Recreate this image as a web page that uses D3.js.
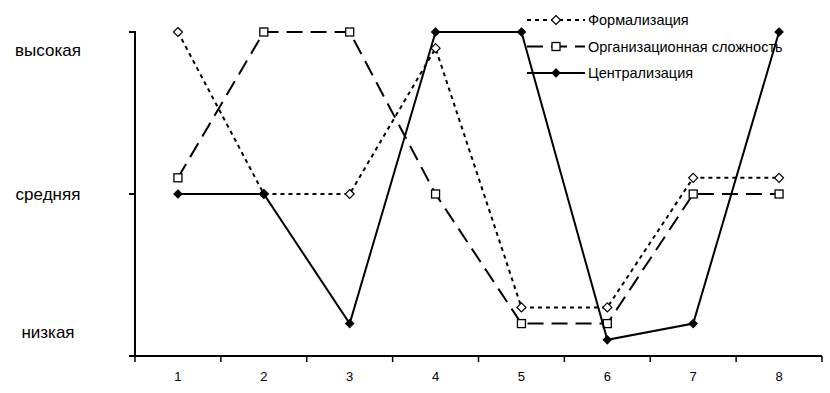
<!DOCTYPE html>
<html>
<head>
<meta charset="utf-8">
<script src="https://cdn.jsdelivr.net/npm/d3@7"></script>
<style>
  body { margin: 0; background: #fff; }
  svg { display: block; }
</style>
</head>
<body>
<div id="chart"></div>
<script>
// Данные
const categories = ["1", "2", "3", "4", "5", "6", "7", "8"];
const levelLabels = ["низкая", "средняя", "высокая"];
const formalization = [3, 2, 2, 2.9, 1.3, 1.3, 2.1, 2.1];
const orgComplexity = [2.1, 3, 3, 2, 1.2, 1.2, 2, 2];
const centralization = [2, 2, 1.2, 3, 3, 1.1, 1.2, 3];
const seriesNames = ["Формализация", "Организационная сложность", "Централизация"];

const W = 830, H = 393;
const plotLeft = 135, plotRight = 822, plotTop = 32, plotBottom = 356;
const font = "'Liberation Sans', Arial, sans-serif";

const svg = d3.select("#chart").append("svg")
  .attr("width", W).attr("height", H);

const x = d3.scaleBand().domain(categories).range([plotLeft, plotRight]).padding(0);
const y = d3.scaleLinear().domain([1, 3]).range([plotBottom, plotTop]);

// X axis
const xAxis = svg.append("g")
  .attr("transform", `translate(0,${plotBottom})`);
xAxis.append("line")
  .attr("x1", plotLeft - 6).attr("x2", plotRight)
  .attr("stroke", "#000").attr("stroke-width", 2);
const bounds = categories.map(c => x(c)).concat([plotRight]);
xAxis.selectAll(".xt").data(bounds).enter().append("line")
  .attr("x1", d => d).attr("x2", d => d)
  .attr("y1", 0).attr("y2", 6)
  .attr("stroke", "#000").attr("stroke-width", 1.5);
xAxis.selectAll(".xl").data(categories).enter().append("text")
  .attr("x", d => x(d) + x.bandwidth() / 2)
  .attr("y", 25)
  .attr("text-anchor", "middle")
  .attr("fill", "#000")
  .style("font-family", font).style("font-size", "13px")
  .text(d => d);

// Y axis
const yAxis = svg.append("g");
yAxis.append("line")
  .attr("x1", plotLeft).attr("x2", plotLeft)
  .attr("y1", plotTop - 1).attr("y2", plotBottom)
  .attr("stroke", "#000").attr("stroke-width", 2);
yAxis.selectAll(".yt").data([1, 2, 3]).enter().append("line")
  .attr("x1", plotLeft - 6).attr("x2", plotLeft)
  .attr("y1", d => y(d)).attr("y2", d => y(d))
  .attr("stroke", "#000").attr("stroke-width", 2);
const labelOffsets = [-24, 0, 18];
yAxis.selectAll(".yl").data(levelLabels).enter().append("text")
  .attr("x", 48)
  .attr("y", (d, i) => y(i + 1) + labelOffsets[i])
  .attr("dy", "0.35em")
  .attr("text-anchor", "middle")
  .attr("fill", "#000")
  .style("font-family", font).style("font-size", "17px")
  .text(d => d);

// Series
const series = [
  { name: seriesNames[0], values: formalization, dash: "4,4", marker: "diamond", fill: "#fff" },
  { name: seriesNames[1], values: orgComplexity, dash: "16,8", marker: "square", fill: "#fff" },
  { name: seriesNames[2], values: centralization, dash: null, marker: "diamond", fill: "#000" }
];

const cx = (d, i) => x(categories[i]) + x.bandwidth() / 2;
const line = d3.line().x(cx).y(d => y(d));

function drawMarker(g, type, fill, px, py) {
  if (type === "square") {
    g.append("rect")
      .attr("x", px - 4).attr("y", py - 4)
      .attr("width", 8).attr("height", 8)
      .attr("fill", fill).attr("stroke", "#000").attr("stroke-width", 1.3);
  } else {
    const s = fill === "#000" ? 4 : 4.5;
    g.append("path")
      .attr("d", `M${px},${py - s}L${px + s},${py}L${px},${py + s}L${px - s},${py}Z`)
      .attr("fill", fill).attr("stroke", "#000").attr("stroke-width", 1.2);
  }
}

series.forEach(s => {
  const g = svg.append("g");
  g.append("path")
    .datum(s.values)
    .attr("d", line)
    .attr("fill", "none")
    .attr("stroke", "#000")
    .attr("stroke-width", 2)
    .attr("stroke-dasharray", s.dash);
  s.values.forEach((v, i) => drawMarker(g, s.marker, s.fill, cx(v, i), y(v)));
});

// Legend
const legend = svg.append("g").attr("transform", "translate(527,20)");
series.forEach((s, i) => {
  const ly = i * 26.5;
  legend.append("line")
    .attr("x1", 0).attr("x2", 58)
    .attr("y1", ly).attr("y2", ly)
    .attr("stroke", "#000").attr("stroke-width", 2)
    .attr("stroke-dasharray", s.dash);
  drawMarker(legend, s.marker, s.fill, 29, ly);
  legend.append("text")
    .attr("x", 61).attr("y", ly)
    .attr("dy", "0.35em")
    .attr("fill", "#000")
    .style("font-family", font).style("font-size", "14.5px")
    .text(s.name);
});
</script>
</body>
</html>
